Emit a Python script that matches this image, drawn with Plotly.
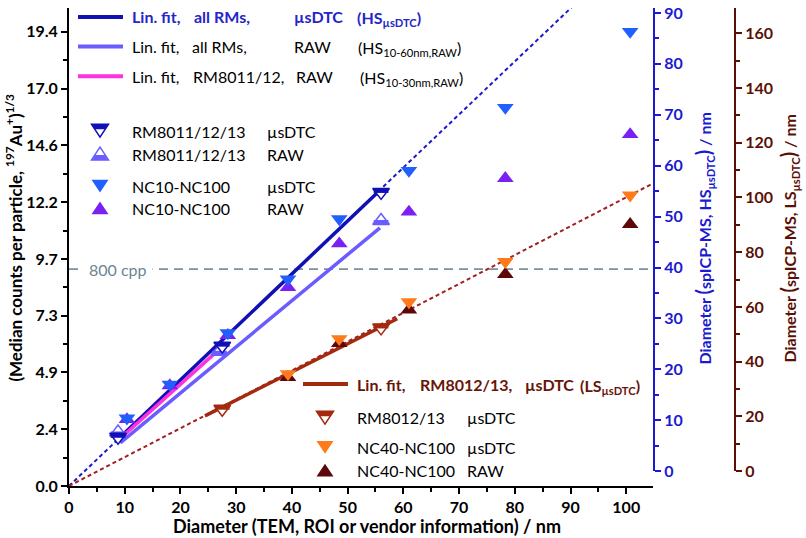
import plotly.graph_objects as go

# ---------------- data ----------------
nc_x = [10.4, 18.1, 28.5, 39.3, 48.5, 61.0, 78.3, 100.7]
nc_dtc = [2.9, 4.35, 6.55, 8.85, 11.43, 13.5, 16.2, 19.45]
nc_raw = [2.85, 4.3, 6.45, 8.5, 10.37, 11.73, 13.17, 15.05]

rm_x = [8.8, 27.5, 56.0]
rm_dtc = [2.1, 6.0, 12.58]
rm_raw_x = [8.8, 27.0, 56.0]
rm_raw = [2.3, 5.75, 11.35]

rm8012_x = [27.5, 56.0]
rm8012_dtc = [3.3, 6.78]

nc40_x = [39.3, 48.5, 61.0, 78.3, 100.7]
nc40_dtc = [4.8, 6.3, 7.88, 9.6, 12.45]
nc40_raw = [4.65, 6.1, 7.54, 9.06, 11.2]

hs_dtc_fit_x = [8.8, 55.8]
hs_dtc_fit_y = [2.0, 12.66]
hs_dtc_ext_x = [0, 92]
hs_dtc_ext_y = [0, 20.9]
hs_raw_fit_x = [9.2, 55.8]
hs_raw_fit_y = [1.85, 11.05]
hs_rm_fit_x = [9.5, 26.5]
hs_rm_fit_y = [2.1, 5.75]
ls_fit_x = [24.4, 58.9]
ls_fit_y = [3.0, 7.16]
ls_ext_x = [0, 104.8]
ls_ext_y = [0, 12.95]

cpp_threshold = 800

x_ticks = [0, 10, 20, 30, 40, 50, 60, 70, 80, 90, 100]
y_tick_vals = [0, 2.43, 4.86, 7.29, 9.72, 12.15, 14.58, 17.01, 19.44]
y_tick_text = ["0.0", "2.4", "4.9", "7.3", "9.7", "12.2", "14.6", "17.0", "19.4"]
hs_ticks = [0, 10, 20, 30, 40, 50, 60, 70, 80, 90]
ls_ticks = [0, 20, 40, 60, 80, 100, 120, 140, 160]

# ---------------- styling ----------------
FONT = "Lato"
C_HS_DTC = "#1010b4"
C_HS_RAW = "#6a5cff"
C_MAG = "#ff30e0"
C_NC_DTC = "#2060ff"
C_NC_RAW = "#7a20f5"
C_LS = "#a3290f"
C_NC40_DTC = "#ff7a1a"
C_NC40_RAW = "#5c0808"
C_BLUE_AX = "#1a1ad0"
C_BROWN_AX = "#5a1005"
C_CPP = "#7d8f9c"

# plot-area geometry in pixels
L, R, T, B = 69, 735, 3, 486
PW, PH = R - L, B - T
PX_PER_Y = 23.61  # pixel per left-axis unit (for half-fill bar offsets)


def P(px, py):
    return (px - L) / PW, (B - py) / PH


fig = go.Figure()

# dashed extrapolations
fig.add_trace(go.Scatter(x=hs_dtc_ext_x, y=hs_dtc_ext_y, mode="lines",
                         line=dict(color="#1a1acc", width=2, dash="4px,3px")))
fig.add_trace(go.Scatter(x=ls_ext_x, y=ls_ext_y, mode="lines",
                         line=dict(color="#a02020", width=2, dash="4px,3px")))
# 800 cpp line
cpp_y = cpp_threshold ** (1 / 3)
fig.add_trace(go.Scatter(x=[0, 104.8], y=[cpp_y, cpp_y], mode="lines",
                         line=dict(color=C_CPP, width=1.6, dash="9px,6px")))

# fit lines
fig.add_trace(go.Scatter(x=hs_raw_fit_x, y=hs_raw_fit_y, mode="lines",
                         line=dict(color=C_HS_RAW, width=3.5)))
fig.add_trace(go.Scatter(x=hs_dtc_fit_x, y=hs_dtc_fit_y, mode="lines",
                         line=dict(color=C_HS_DTC, width=3.5)))
fig.add_trace(go.Scatter(x=hs_rm_fit_x, y=hs_rm_fit_y, mode="lines",
                         line=dict(color=C_MAG, width=3.5)))
fig.add_trace(go.Scatter(x=ls_fit_x, y=ls_fit_y, mode="lines",
                         line=dict(color=C_LS, width=3.5)))

MS = 14.5


def filled(x, y, sym, color):
    fig.add_trace(go.Scatter(x=x, y=y, mode="markers",
                             marker=dict(symbol=sym, size=MS, color=color,
                                         line=dict(width=0))))


def half(x, y, up, color):
    sym = "triangle-up" if up else "triangle-down"
    fig.add_trace(go.Scatter(x=x, y=y, mode="markers",
                             marker=dict(symbol=sym, size=MS, color="white",
                                         line=dict(width=1.5, color=color))))
    off = (MS / 4 - 2.2) / PX_PER_Y
    yb = [v - off for v in y] if up else [v + off for v in y]
    fig.add_trace(go.Scatter(x=x, y=yb, mode="markers",
                             marker=dict(symbol="line-ew", size=10.5,
                                         line=dict(width=4.5, color=color))))


filled(nc40_x, nc40_raw, "triangle-up", C_NC40_RAW)
filled(nc40_x, nc40_dtc, "triangle-down", C_NC40_DTC)
filled(nc_x, nc_raw, "triangle-up", C_NC_RAW)
filled(nc_x, nc_dtc, "triangle-down", C_NC_DTC)
half(rm8012_x, rm8012_dtc, False, C_LS)
half(rm_raw_x, rm_raw, True, C_HS_RAW)
half(rm_x, rm_dtc, False, C_HS_DTC)

# dummy traces so the right axes are drawn
fig.add_trace(go.Scatter(x=[None], y=[None], yaxis="y2", mode="markers"))
fig.add_trace(go.Scatter(x=[None], y=[None], yaxis="y3", mode="markers"))

fig.update_traces(showlegend=False, hoverinfo="skip")

# ---------------- axes ----------------
tickfont = dict(family=FONT, size=16, color="black", weight="bold")
xdom_end = (653 - L) / PW
rdom0 = (B - 471) / PH

fig.update_layout(
    width=806, height=538, autosize=False,
    margin=dict(l=L, r=806 - R, t=T, b=538 - B, pad=0),
    plot_bgcolor="rgba(0,0,0,0)", paper_bgcolor="white",
    font=dict(family=FONT),
    xaxis=dict(domain=[0, xdom_end], range=[0, 104.8], tickvals=x_ticks,
               showgrid=False, zeroline=False, showline=True, linecolor="black",
               linewidth=2, ticks="outside", ticklen=6, tickwidth=2,
               tickcolor="black", tickfont=tickfont, ticklabeloverflow="allow",
               minor=dict(dtick=5, tick0=0, ticks="outside", ticklen=4,
                          tickwidth=1.5, tickcolor="black"),
               anchor="y"),
    yaxis=dict(range=[0, 20.46], tickvals=y_tick_vals, ticktext=y_tick_text,
               showgrid=False, zeroline=False, showline=True, linecolor="black",
               linewidth=2, ticks="outside", ticklen=6, tickwidth=2,
               tickcolor="black", tickfont=tickfont, ticklabeloverflow="allow",
               minor=dict(dtick=1.215, tick0=0, ticks="outside", ticklen=4,
                          tickwidth=1.5, tickcolor="black"),
               anchor="x"),
    yaxis2=dict(domain=[rdom0, 1], range=[0, 90.97], tickvals=hs_ticks,
                side="right", anchor="x", showgrid=False, zeroline=False,
                showline=True, linecolor=C_BLUE_AX, linewidth=2,
                ticks="outside", ticklen=6, tickwidth=2, tickcolor=C_BLUE_AX,
                ticklabeloverflow="allow",
                tickfont=dict(family=FONT, size=16, color=C_BLUE_AX, weight="bold"),
                minor=dict(dtick=5, tick0=0, ticks="outside", ticklen=4,
                           tickwidth=1.5, tickcolor=C_BLUE_AX)),
    yaxis3=dict(domain=[rdom0, 1], range=[0, 169.2], tickvals=ls_ticks,
                side="right", anchor="free", position=1.0, showgrid=False,
                zeroline=False, showline=True, linecolor=C_BROWN_AX, linewidth=2,
                ticks="outside", ticklen=6, tickwidth=2, tickcolor=C_BROWN_AX,
                ticklabeloverflow="allow",
                tickfont=dict(family=FONT, size=16, color=C_BROWN_AX, weight="bold"),
                minor=dict(dtick=10, tick0=0, ticks="outside", ticklen=4,
                           tickwidth=1.5, tickcolor=C_BROWN_AX)),
)

annotations = []
shapes = []


def text(px, py, s, color="black", size=16, bold=False, anchor="left"):
    x, y = P(px, py)
    annotations.append(dict(x=x, y=y, xref="paper", yref="paper", text=s,
                            showarrow=False, xanchor=anchor, yanchor="middle",
                            font=dict(family=FONT, size=size, color=color,
                                      weight="bold" if bold else "normal")))


def legline(x0, x1, py, color):
    a = P(x0, py)
    b = P(x1, py)
    shapes.append(dict(type="line", xref="paper", yref="paper", x0=a[0], y0=a[1],
                       x1=b[0], y1=b[1], line=dict(color=color, width=4)))


def poly(pts, fill, line_color=None, lw=0):
    s = "M " + " L ".join("%.5f %.5f" % P(x, y) for x, y in pts) + " Z"
    shapes.append(dict(type="path", xref="paper", yref="paper", path=s,
                       fillcolor=fill, line=dict(color=line_color or fill, width=lw)))


def legtri(cx, cy, up, color, half_fill=False, w=17, h=13, band=5):
    if up:
        pts = [(cx - w / 2, cy + h / 2), (cx + w / 2, cy + h / 2), (cx, cy - h / 2)]
    else:
        pts = [(cx - w / 2, cy - h / 2), (cx + w / 2, cy - h / 2), (cx, cy + h / 2)]
    if not half_fill:
        poly(pts, color)
        return
    poly(pts, "white", color, 1.5)
    k = 1 - band / h
    if up:
        yb = cy + h / 2
        tp = [(cx - w / 2, yb), (cx + w / 2, yb), (cx + w / 2 * k, yb - band),
              (cx - w / 2 * k, yb - band)]
    else:
        yt = cy - h / 2
        tp = [(cx - w / 2, yt), (cx + w / 2, yt), (cx + w / 2 * k, yt + band),
              (cx - w / 2 * k, yt + band)]
    poly(tp, color)


# top fit legend
C_LEG_BLUE = "#2525c8"
legline(78, 123, 12, C_HS_DTC)
text(130, 12, "Lin. fit,", C_LEG_BLUE, bold=True)
text(192, 12, "all RMs,", C_LEG_BLUE, bold=True)
text(292, 12, "µsDTC", C_LEG_BLUE, bold=True)
text(355, 14, "(HS<sub>µsDTC</sub>)", C_LEG_BLUE, bold=True)

legline(78, 123, 42, C_HS_RAW)
text(130, 42, "Lin. fit,")
text(190, 42, "all RMs,")
text(292, 42, "RAW")
text(356, 44, "(HS<sub>10-60nm,RAW</sub>)")

legline(78, 123, 72, C_MAG)
text(130, 72, "Lin. fit,")
text(191, 72, "RM8011/12,")
text(294, 72, "RAW")
text(358, 74, "(HS<sub>10-30nm,RAW</sub>)")

# marker legend (HS)
legtri(100, 127, False, C_HS_DTC, True)
text(130, 128, "RM8011/12/13")
text(265, 128, "µsDTC")
legtri(100, 150, True, C_HS_RAW, True)
text(130, 151, "RM8011/12/13")
text(265, 151, "RAW")
legtri(100, 183, False, C_NC_DTC)
text(130, 183, "NC10-NC100")
text(265, 183, "µsDTC")
legtri(100, 205, True, C_NC_RAW)
text(130, 206, "NC10-NC100")
text(265, 206, "RAW")

# LS legend
C_LEG_BROWN = "#6a1408"
legline(303, 348, 383, C_LS)
text(355, 383, "Lin. fit,", C_LEG_BROWN, bold=True)
text(418, 383, "RM8012/13,", C_LEG_BROWN, bold=True)
text(523, 383, "µsDTC", C_LEG_BROWN, bold=True)
text(578, 385, "(LS<sub>µsDTC</sub>)", C_LEG_BROWN, bold=True)
legtri(325, 417, False, C_LS, True)
text(355, 417, "RM8012/13")
text(465, 417, "µsDTC")
legtri(325, 447, False, C_NC40_DTC)
text(355, 447, "NC40-NC100")
text(465, 447, "µsDTC")
legtri(325, 470, True, C_NC40_RAW)
text(355, 470, "NC40-NC100")
text(465, 470, "RAW")

# 800 cpp label on the line
annotations.append(dict(x=8.8, y=cpp_y, xref="x", yref="y", text="800 cpp",
                        showarrow=False, bgcolor="white", xanchor="center",
                        yanchor="middle", borderpad=5,
                        font=dict(family=FONT, size=16, color="#6b8595")))

# axis titles
big = '<span style="font-size:20px">'


def title(px, py, s, color, size, angle=0):
    x, y = P(px, py)
    annotations.append(dict(x=x, y=y, xref="paper", yref="paper", showarrow=False,
                            textangle=angle, text=s, xanchor="center", yanchor="middle",
                            font=dict(family=FONT, size=size, color=color, weight="bold")))


title(367, 526, "Diameter (TEM, ROI or vendor information) / nm", "black", 18)
title(14, 235, "(Median counts per particle, <sup>197</sup>Au<sup>+</sup>)<sup>1/3</sup>",
      "black", 17, -90)
title(704, 236, "Diameter " + big + "(</span>spICP-MS, HS<sub>µsDTC</sub>" + big + ")</span> / nm",
      C_BLUE_AX, 16, -90)
title(789, 236, "Diameter " + big + "(</span>spICP-MS, LS<sub>µsDTC</sub>" + big + ")</span> / nm",
      C_BROWN_AX, 16, -90)

fig.update_layout(annotations=annotations, shapes=shapes)
fig.write_html("out.html", config={"displayModeBar": False},
               post_script="document.body.style.margin='0';")
